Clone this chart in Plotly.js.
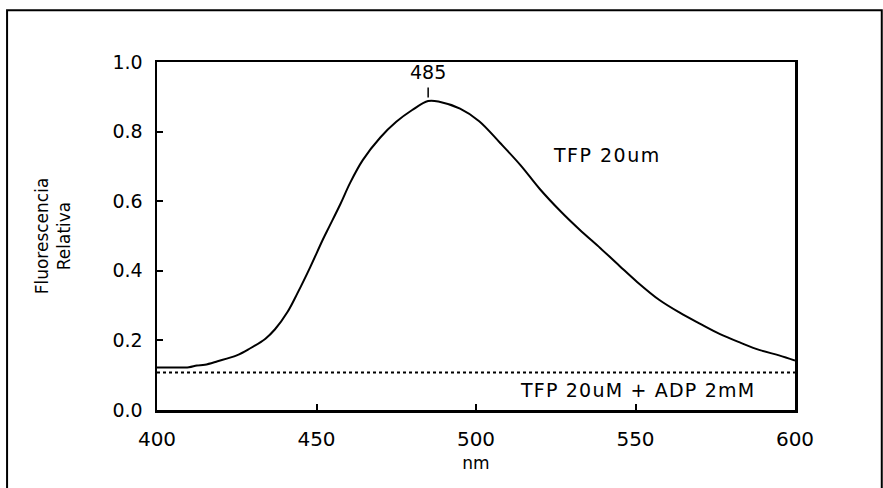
<!DOCTYPE html>
<html>
<head>
<meta charset="utf-8">
<script src="https://cdn.plot.ly/plotly-3.0.1.min.js"></script>
<style>
html,body{margin:0;padding:0;background:#fff;}
#chart{width:883px;height:488px;}
</style>
</head>
<body>
<div id="chart"></div>
<script>
// Wavelength (nm) and relative fluorescence, TFP 20uM
var wavelength = [400,405,410,412.5,415,419,425,429,434,437,441,444,448,452,454,457.5,460.5,464.5,470,475,480,485,488.5,495,501,507.5,514,520,526.5,532.5,539,545,550.5,557.5,564,570,576.5,583,589,595,600];
var fluorTFP   = [0.122,0.122,0.123,0.128,0.130,0.140,0.157,0.176,0.205,0.232,0.283,0.335,0.410,0.490,0.527,0.592,0.652,0.718,0.783,0.828,0.862,0.888,0.886,0.866,0.830,0.768,0.703,0.635,0.571,0.518,0.465,0.414,0.368,0.316,0.279,0.249,0.218,0.193,0.172,0.157,0.142];
// TFP 20uM + ADP 2mM (flat baseline)
var wavelengthADP = [400,600];
var fluorADP      = [0.108,0.108];
// Axis ticks
var xTickVals = [400,450,500,550,600];
var yTickVals = [0,0.2,0.4,0.6,0.8,1.0];
var yTickText = ["0.0","0.2","0.4","0.6","0.8","1.0"];
// Labels
var peakX = 485;
var labelCurve = "TFP 20um";
var labelADP = "TFP 20uM + ADP 2mM";

var font = "DejaVu Sans, Arial, sans-serif";
function spaced(t, px) { return '<span style="letter-spacing:' + px + 'px">' + t + '</span>'; }

var traces = [
  {x: wavelength, y: fluorTFP, mode: "lines", type: "scatter", name: labelCurve,
   line: {color: "#000", width: 2, shape: "spline", smoothing: 1}},
  {x: wavelengthADP, y: fluorADP, mode: "lines", type: "scatter", name: labelADP,
   line: {color: "#000", width: 2, dash: "dot"}}
];

var layout = {
  width: 883, height: 488,
  margin: {l: 157, r: 88, t: 62, b: 78},
  paper_bgcolor: "#fff", plot_bgcolor: "#fff",
  showlegend: false,
  font: {family: font, color: "#000", size: 16},
  xaxis: {
    range: [400, 600], tickvals: xTickVals, ticks: "inside", ticklen: 6, tickwidth: 2,
    tickcolor: "#000", showline: true, linewidth: 2.5, linecolor: "#000", mirror: true,
    showgrid: false, zeroline: false, tickfont: {size: 20, family: font}, ticklabelstandoff: 9,
    title: {text: "nm", font: {size: 17, family: font}, standoff: 8}
  },
  yaxis: {
    range: [0, 1.0], tickvals: yTickVals, ticktext: yTickText, ticks: "inside", ticklen: 6, tickwidth: 2,
    tickcolor: "#000", showline: true, linewidth: 2.5, linecolor: "#000", mirror: true,
    showgrid: false, zeroline: false, tickfont: {size: 19, family: font}, ticklabelstandoff: 8,
    title: {text: "Fluorescencia<br>Relativa", font: {size: 17, family: font}, standoff: 38}
  },
  annotations: [
    {x: peakX, y: 0.972, xref: "x", yref: "y", text: String(peakX), showarrow: false,
     font: {size: 19, family: font}},
    {x: 541, y: 0.733, xref: "x", yref: "y", text: spaced(labelCurve, 1.5), showarrow: false,
     font: {size: 19, family: font}},
    {x: 550.5, y: 0.057, xref: "x", yref: "y", text: spaced(labelADP, 1.2), showarrow: false,
     font: {size: 19, family: font}}
  ],
  shapes: [
    {type: "line", xref: "x", yref: "y", x0: peakX, x1: peakX, y0: 0.898, y1: 0.927,
     line: {color: "#000", width: 1.5}},
    {type: "rect", xref: "paper", yref: "paper", x0: -0.235, x1: 1.136, y0: -0.3, y1: 1.149,
     line: {color: "#000", width: 2}, fillcolor: "rgba(0,0,0,0)", layer: "below"}
  ]
};

Plotly.newPlot("chart", traces, layout, {staticPlot: true, displayModeBar: false});
</script>
</body>
</html>
